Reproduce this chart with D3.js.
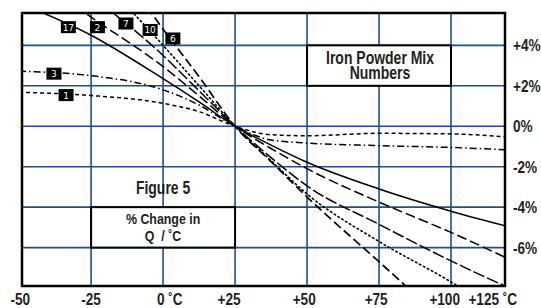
<!DOCTYPE html>
<html>
<head>
<meta charset="utf-8">
<script src="https://cdn.jsdelivr.net/npm/d3@7"></script>
<style>
  body { margin: 0; background: #fff; }
  svg { display: block; }
  .lbl { font-family: "Liberation Sans", Arial, sans-serif; font-weight: bold; fill: #231f20; white-space: pre; }
</style>
</head>
<body>
<svg id="chart" width="541" height="308"></svg>
<script>
// temperatures (deg C) where values were read
var temps = [-50, -25, 0, 12.5, 25, 37.5, 50, 75, 100, 125];

// % change in Q for each iron powder mix
var mix17 = [6.1, 4.5, 2.35, 1.2, 0, -0.93, -1.78, -3.1, -4.2, -5.15];
var mix2 = [8.0, 5.4, 2.95, 1.5, 0, -1.1, -2.1, -3.75, -5.25, -6.9];
var mix7 = [9.5, 6.5, 3.5, 1.75, 0, -1.55, -2.95, -4.85, -6.66, -8.3];
var mix10 = [11.5, 7.8, 4.0, 2.0, 0, -1.7, -3.35, -5.7, -7.7, -10];
var mix6 = [14, 9.8, 4.8, 2.45, 0, -1.75, -3.5, -6.7, -9.9, -13];
var mix3 = [2.72, 2.5, 1.8, 1.05, 0, -0.68, -0.83, -0.96, -1.05, -1.2];
var mix1 = [1.68, 1.52, 1.13, 0.72, 0, -0.42, -0.47, -0.35, -0.38, -0.6];

var mixNames = ["17", "2", "7", "10", "6", "3", "1"];
var mixValues = [mix17, mix2, mix7, mix10, mix6, mix3, mix1];
// where the little number tags sit (deg C, %)
var tagT = [-32.9, -22.8, -12.9, -4.5, 3.4, -37.9, -33.7];
var tagV = [4.9, 4.9, 5.08, 4.76, 4.34, 2.6, 1.54];

var xGrid = [-25, 0, 25, 50, 75, 100];
var yGrid = [4, 2, 0, -2, -4, -6];
var yTickText = ["+4%", "+2%", "0%", "-2%", "-4%", "-6%"];
var xTickText = ["-50", "-25", "0 \u02DAC", "+25", "+50", "+75", "+100", "+125 \u02DAC"];
var xTickPos = [-49.6, -25, 2.3, 22.9, 49, 74, 97.8, 114.5];

var styles = {
    "17": {dash: null, w: 1.5},
    "2": {dash: "10,4", w: 1.5},
    "7": {dash: "12,3", w: 1.5},
    "10": {dash: "1.5,3", w: 1.6},
    "6": {dash: "9,4", w: 1.7},
    "3": {dash: "7,3,1.5,3", w: 1.5},
    "1": {dash: "4,3", w: 1.5}
};

var svg = d3.select("#chart");
var pLeft = 22, pRight = 505, pTop = 13, pBottom = 286;

var x = d3.scaleLinear().domain([-49, 118.75]).range([pLeft, pRight]);
var y = d3.scaleLinear().domain([5.6, -7.9]).range([pTop, pBottom]);

svg.append("defs").append("clipPath").attr("id", "plotclip")
    .append("rect")
    .attr("x", pLeft).attr("y", pTop)
    .attr("width", pRight - pLeft).attr("height", pBottom - pTop);

var gridColor = "#1d4f8a";

// narrow bold label: arial-ish squeezed sideways
function label(g, tx, ty, size, anchor, str) {
    return g.append("text").attr("class", "lbl")
        .attr("transform", "translate(" + tx + "," + ty + ") scale(0.8,1)")
        .attr("text-anchor", anchor)
        .attr("font-size", size)
        .text(str);
}

// grid
svg.append("g").selectAll("line").data(xGrid).enter().append("line")
    .attr("x1", d => x(d)).attr("x2", d => x(d))
    .attr("y1", pTop).attr("y2", pBottom)
    .attr("stroke", gridColor).attr("stroke-width", 1.6);
svg.append("g").selectAll("line").data(yGrid).enter().append("line")
    .attr("x1", pLeft).attr("x2", pRight)
    .attr("y1", d => y(d)).attr("y2", d => y(d))
    .attr("stroke", gridColor).attr("stroke-width", 1.6);

// curves
var line = d3.line()
    .x(d => x(d[0]))
    .y(d => y(d[1]))
    .curve(d3.curveMonotoneX);

var curves = svg.append("g").attr("clip-path", "url(#plotclip)");
mixNames.forEach(function (name, i) {
    var pts = temps.map((t, j) => [t, mixValues[i][j]]);
    curves.append("path")
        .attr("d", line(pts))
        .attr("fill", "none")
        .attr("stroke", "#000")
        .attr("stroke-width", styles[name].w)
        .attr("stroke-dasharray", styles[name].dash)
        .attr("stroke-linecap", name == "10" ? "round" : "butt");
});

// number tags
var tags = svg.append("g");
mixNames.forEach(function (name, i) {
    var cx = x(tagT[i]), cy = y(tagV[i]);
    tags.append("rect")
        .attr("x", cx - 7.5).attr("y", cy - 6)
        .attr("width", 15).attr("height", 12)
        .attr("fill", "#000");
    tags.append("text")
        .attr("x", cx).attr("y", cy + 3.5)
        .attr("text-anchor", "middle")
        .attr("font-family", "DejaVu Sans, sans-serif")
        .attr("font-size", 9)
        .attr("fill", "#fff")
        .text(name);
});

// text boxes
svg.append("rect")
    .attr("x", x(50)).attr("y", y(4))
    .attr("width", x(100) - x(50)).attr("height", y(2) - y(4))
    .attr("fill", "#fff").attr("stroke", "#000").attr("stroke-width", 2);
label(svg, x(75) + 1, y(4) + 19, 17.5, "middle", "Iron Powder Mix");
label(svg, x(75) + 1, y(4) + 34, 17.5, "middle", "Numbers");

svg.append("rect")
    .attr("x", x(-25)).attr("y", y(-4))
    .attr("width", x(25) - x(-25)).attr("height", y(-6) - y(-4))
    .attr("fill", "#fff").attr("stroke", "#000").attr("stroke-width", 2);
label(svg, x(0), y(-4) + 17, 15.5, "middle", "% Change in");
label(svg, x(0), y(-4) + 34, 15.5, "middle", "Q  / \u02DAC");

label(svg, x(0), y(-2) + 27, 17.5, "middle", "Figure 5");

// frame
svg.append("rect")
    .attr("x", pLeft).attr("y", pTop)
    .attr("width", pRight - pLeft).attr("height", pBottom - pTop)
    .attr("fill", "none").attr("stroke", "#000").attr("stroke-width", 2.5);

// axis labels
var yl = svg.append("g");
yGrid.forEach(function (d, i) {
    label(yl, pRight + 8, y(d) + 6, 17, "start", yTickText[i]);
});
var xl = svg.append("g");
xTickPos.forEach(function (d, i) {
    label(xl, x(d), 305, 17, "middle", xTickText[i]);
});
</script>
</body>
</html>
